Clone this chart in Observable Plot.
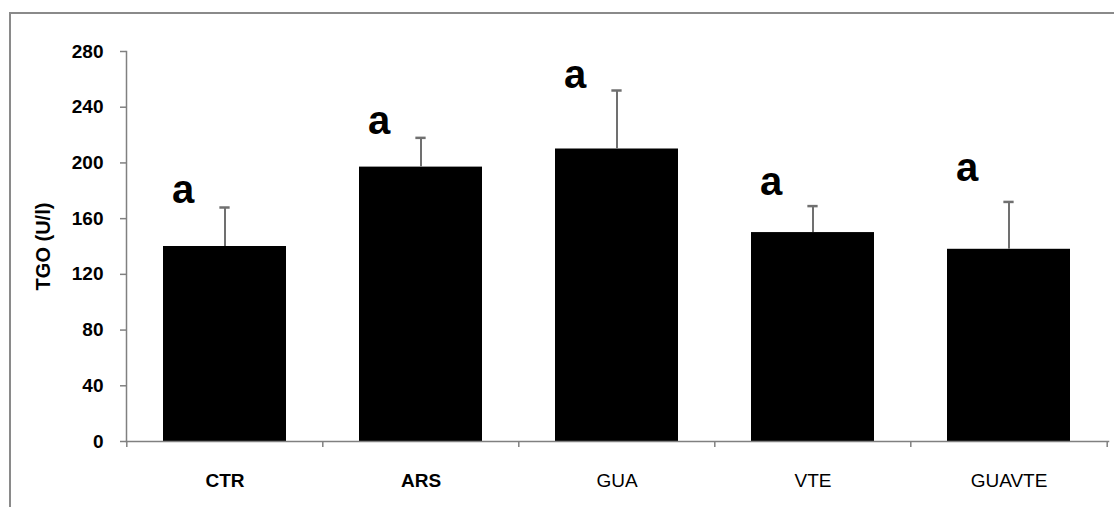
<!DOCTYPE html>
<html>
<head>
<meta charset="utf-8">
<script src="https://cdn.jsdelivr.net/npm/d3@7"></script>
<script src="https://cdn.jsdelivr.net/npm/@observablehq/plot@0.6"></script>
<style>
  html, body { margin: 0; padding: 0; background: #fff; overflow: hidden; width: 1114px; height: 507px; }
  #border { position: absolute; left: 9px; top: 12px; width: 1300px; height: 700px; border: 2px solid #8a8a8a; box-sizing: border-box; }
  #chart { position: absolute; left: 0; top: 0; }
</style>
</head>
<body>
<div id="border"></div>
<div id="chart"></div>
<script>
// ---- data ----
const categories = ["CTR", "ARS", "GUA", "VTE", "GUAVTE"];
const means = [140, 197, 210, 150, 138];
const errors = [28, 21, 42, 19, 34];
const letters = ["a", "a", "a", "a", "a"];
const letterValues = [171, 221, 254, 177, 187];
const boldCategories = ["CTR", "ARS"];
const normalCategories = ["GUA", "VTE", "GUAVTE"];
const yTicks = [0, 40, 80, 120, 160, 200, 240, 280];
const yTitle = "TGO (U/l)";

const data = categories.map((c, i) => ({cat: c, mean: means[i], top: means[i] + errors[i], letter: letters[i], ly: letterValues[i]}));

// ---- layout ----
const W = 1114, H = 507;
const mL = 126, mR = 6, mT = 51, mB = 66;
const padInner = 0.37, padOuter = 0.185;
const step = (W - mL - mR) / (categories.length - padInner + 2 * padOuter);
const bw = step * (1 - padInner);
const capW = 11;
const gray = "#808080";

const plot = Plot.plot({
  width: W, height: H,
  marginLeft: mL, marginRight: mR, marginTop: mT, marginBottom: mB,
  style: {fontFamily: "'Liberation Sans', Arial, sans-serif", background: "transparent", color: "#000"},
  x: {domain: categories, paddingInner: padInner, paddingOuter: padOuter, axis: null},
  y: {domain: [0, 280], axis: null},
  marks: [
    Plot.barY(data, {x: "cat", y: "mean", fill: "#000"}),
    Plot.ruleX(data, {x: "cat", y1: "mean", y2: "top", stroke: "#707070", strokeWidth: 2}),
    Plot.tickY(data, {x: "cat", y: "top", stroke: "#707070", strokeWidth: 2.5, insetLeft: (bw - capW) / 2, insetRight: (bw - capW) / 2}),
    Plot.frame({anchor: "left", stroke: gray, strokeWidth: 1.5}),
    Plot.frame({anchor: "bottom", stroke: gray, strokeWidth: 1.5}),
    // category boundary ticks
    Plot.ruleX(categories, {x: d => d, y1: 0, y2: 0, dx: -step / 2, insetBottom: -6, stroke: gray, strokeWidth: 1.5}),
    Plot.ruleX(categories.slice(-1), {x: d => d, y1: 0, y2: 0, dx: step / 2, insetBottom: -6, stroke: gray, strokeWidth: 1.5}),
    Plot.axisY({ticks: yTicks, tickSize: 6, tickPadding: 17, stroke: gray, strokeWidth: 1.5, fontSize: 19, fontWeight: "bold", tickFormat: d3.format("d"), label: null, letterSpacing: "1px"}),
    Plot.text(boldCategories, {x: d => d, frameAnchor: "bottom", dy: 45, lineAnchor: "bottom", textAnchor: "middle", fontSize: 19, fontWeight: "bold", letterSpacing: "1.5px"}),
    Plot.text(normalCategories, {x: d => d, frameAnchor: "bottom", dy: 45, lineAnchor: "bottom", textAnchor: "middle", fontSize: 19, letterSpacing: "1.5px"}),
    Plot.text(data, {x: "cat", y: "ly", text: "letter", lineAnchor: "bottom", dx: -42, fontSize: 40, fontWeight: "bold"}),
    Plot.text([yTitle], {frameAnchor: "left", textAnchor: "middle", rotate: -90, dx: -83, fontSize: 20, fontWeight: "bold", letterSpacing: "1.5px"})
  ]
});
document.getElementById("chart").appendChild(plot);
</script>
</body>
</html>
